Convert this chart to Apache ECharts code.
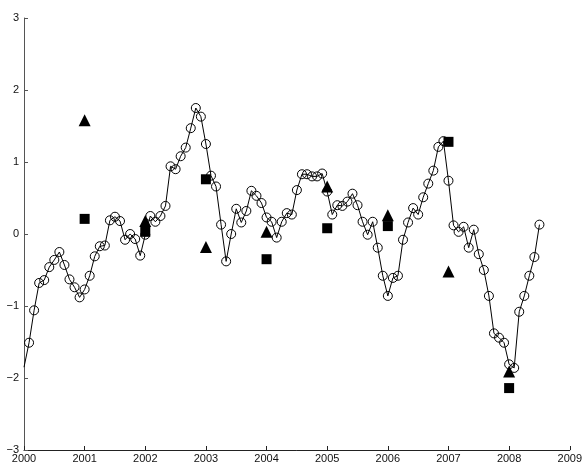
<!DOCTYPE html>
<html>
<head>
<meta charset="utf-8">
<script src="https://cdn.jsdelivr.net/npm/echarts@6/dist/echarts.min.js"></script>
<style>html,body{margin:0;padding:0;background:#fff;}#c{width:585px;height:465px;}</style>
</head>
<body>
<div id="c"></div>
<script>
// Monthly series, starting January 2000
const startYear = 2000;
const monthlyValues = [
  -1.85, -1.51, -1.06, -0.68, -0.64, -0.46, -0.36, -0.25, -0.43, -0.63, -0.74, -0.88,
  -0.77, -0.58, -0.31, -0.17, -0.16, 0.19, 0.24, 0.18, -0.08, 0.0, -0.07, -0.30,
  -0.01, 0.25, 0.17, 0.25, 0.39, 0.94, 0.90, 1.08, 1.20, 1.47, 1.75, 1.63,
  1.25, 0.81, 0.66, 0.13, -0.38, 0.0, 0.35, 0.16, 0.32, 0.60, 0.53, 0.43,
  0.23, 0.17, -0.05, 0.17, 0.29, 0.27, 0.61, 0.83, 0.83, 0.80, 0.80, 0.84,
  0.59, 0.27, 0.40, 0.39, 0.45, 0.56, 0.40, 0.17, -0.01, 0.17, -0.19, -0.58,
  -0.86, -0.61, -0.58, -0.08, 0.16, 0.36, 0.27, 0.51, 0.70, 0.88, 1.21, 1.29,
  0.74, 0.12, 0.03, 0.10, -0.19, 0.06, -0.28, -0.50, -0.86, -1.38, -1.44, -1.51,
  -1.81, -1.86, -1.08, -0.86, -0.58, -0.32, 0.13
];
const annualYears = [2001, 2002, 2003, 2004, 2005, 2006, 2007, 2008];
const triangleValues = [1.58, 0.18, -0.18, 0.03, 0.66, 0.26, -0.52, -1.91];
const squareValues = [0.21, 0.03, 0.76, -0.35, 0.08, 0.11, 1.28, -2.14];
const xTicks = [2000, 2001, 2002, 2003, 2004, 2005, 2006, 2007, 2008, 2009];
const yTicks = [-3, -2, -1, 0, 1, 2, 3];

const lineData = monthlyValues.map((v, i) => {
  const item = { value: [startYear + i / 12, v] };
  if (i === 0) item.symbol = 'none';
  return item;
});
const triData = annualYears.map((y, i) => [y, triangleValues[i]]);
const sqData = annualYears.map((y, i) => [y, squareValues[i]]);

const chart = echarts.init(document.getElementById('c'));
const fmtNum = v => (v < 0 ? '\u2212' + Math.abs(v) : String(v));
chart.setOption({
  animation: false,
  backgroundColor: '#fff',
  grid: { left: 24, right: 13, top: 18, bottom: 15, containLabel: false },
  xAxis: {
    type: 'value', min: xTicks[0], max: xTicks[xTicks.length - 1], interval: 1,
    axisLine: { show: true, onZero: false, lineStyle: { color: '#222', width: 1 } },
    axisTick: { show: true, inside: true, length: 4, lineStyle: { color: '#222' } },
    axisLabel: { color: '#111', fontFamily: 'Liberation Sans', fontSize: 11, margin: 3, formatter: v => String(v) },
    splitLine: { show: false }
  },
  yAxis: {
    type: 'value', min: yTicks[0], max: yTicks[yTicks.length - 1], interval: 1,
    axisLine: { show: true, onZero: false, lineStyle: { color: '#555', width: 1 } },
    axisTick: { show: true, inside: true, length: 4, lineStyle: { color: '#555' } },
    axisLabel: { color: '#111', fontFamily: 'Liberation Sans', fontSize: 11, margin: 5, formatter: fmtNum },
    splitLine: { show: false }
  },
  series: [
    {
      type: 'line', data: lineData, symbol: 'circle', symbolSize: 9,
      showAllSymbol: true, clip: true,
      lineStyle: { color: '#000', width: 1 },
      itemStyle: { color: 'rgba(255,255,255,0)', borderColor: '#000', borderWidth: 1 },
      z: 2
    },
    {
      type: 'scatter', data: triData, symbol: 'triangle', symbolSize: 12,
      itemStyle: { color: '#000', opacity: 1 }, z: 3
    },
    {
      type: 'scatter', data: sqData, symbol: 'rect', symbolSize: 10,
      itemStyle: { color: '#000', opacity: 1 }, z: 3
    }
  ]
});
</script>
</body>
</html>
